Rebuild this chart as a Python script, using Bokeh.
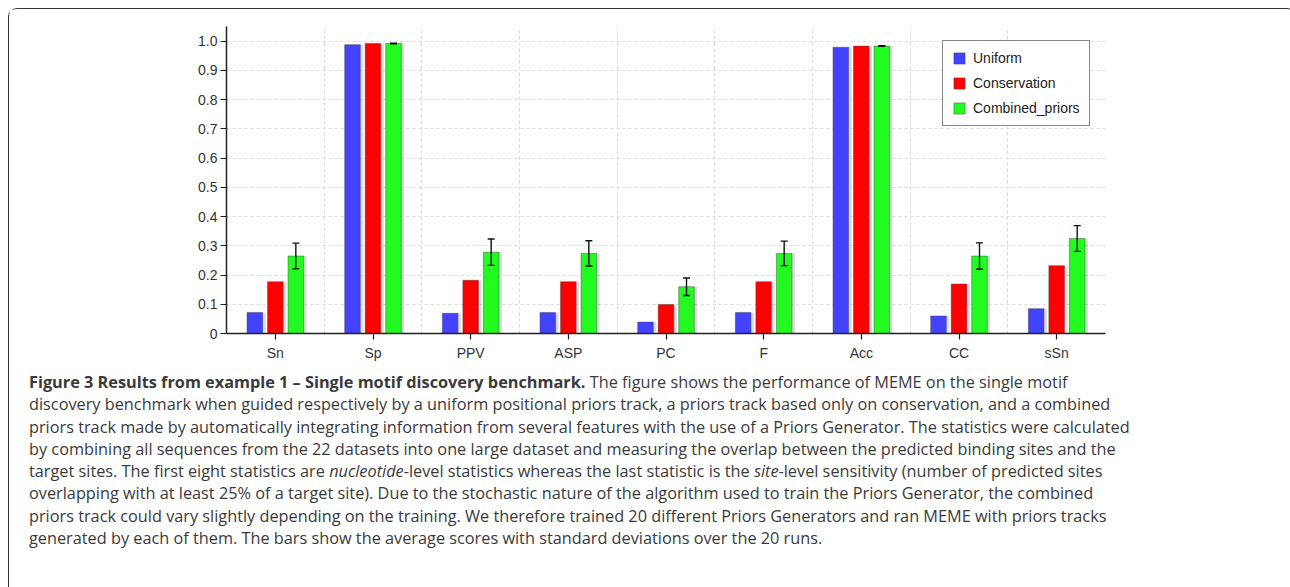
from bokeh.plotting import figure
from bokeh.models import (ColumnDataSource, FixedTicker, Whisker, TeeHead,
                          Legend, LegendItem, Div)
from bokeh.transform import dodge
from bokeh.layouts import column
from bokeh.embed import file_html
from bokeh.resources import INLINE

# ---------------- data ----------------
categories = ["Sn", "Sp", "PPV", "ASP", "PC", "F", "Acc", "CC", "sSn"]
uniform = [0.072, 0.988, 0.069, 0.072, 0.039, 0.072, 0.979, 0.060, 0.085]
conservation = [0.177, 0.992, 0.182, 0.177, 0.099, 0.177, 0.983, 0.169, 0.232]
combined_priors = [0.265, 0.992, 0.278, 0.274, 0.160, 0.274, 0.983, 0.265, 0.325]
combined_sd = [0.044, 0.001, 0.045, 0.043, 0.030, 0.042, 0.001, 0.045, 0.044]
series_names = ["Uniform", "Conservation", "Combined_priors"]
series_colors = ["#4343ff", "#ff0000", "#22fa22"]
y_ticks = [0, 0.1, 0.2, 0.3, 0.4, 0.5, 0.6, 0.7, 0.8, 0.9, 1.0]
y_tick_labels = ["0", "0.1", "0.2", "0.3", "0.4", "0.5", "0.6", "0.7", "0.8", "0.9", "1.0"]

caption_lines = [
    "<b>Figure 3 Results from example 1 \u2013 Single motif discovery benchmark.</b> The figure shows the performance of MEME on the single motif",
    "discovery benchmark when guided respectively by a uniform positional priors track, a priors track based only on conservation, and a combined",
    "priors track made by automatically integrating information from several features with the use of a Priors Generator. The statistics were calculated",
    "by combining all sequences from the 22 datasets into one large dataset and measuring the overlap between the predicted binding sites and the",
    "target sites. The first eight statistics are <i>nucleotide</i>-level statistics whereas the last statistic is the <i>site</i>-level sensitivity (number of predicted sites",
    "overlapping with at least 25% of a target site). Due to the stochastic nature of the algorithm used to train the Priors Generator, the combined",
    "priors track could vary slightly depending on the training. We therefore trained 20 different Priors Generators and ran MEME with priors tracks",
    "generated by each of them. The bars show the average scores with standard deviations over the 20 runs.",
]

src = ColumnDataSource(data=dict(
    cat=categories,
    uniform=uniform,
    conservation=conservation,
    combined=combined_priors,
    upper=[v + s for v, s in zip(combined_priors, combined_sd)],
    lower=[v - s for v, s in zip(combined_priors, combined_sd)],
))

FONT = "Liberation Sans"

p = figure(x_range=categories, y_range=(0, 1.05), width=1276, height=355,
           output_backend="svg", toolbar_location=None,
           min_border_left=217, min_border_right=180, min_border_top=17,
           min_border_bottom=31)
p.outline_line_color = None
p.background_fill_color = "white"
p.border_fill_color = "white"

offsets = [-0.21, 0.0, 0.21]
bar_w = 0.16
cols = ["uniform", "conservation", "combined"]

# soft shadows to the right of bars
for off, c in zip(offsets, cols):
    p.vbar(x=dodge("cat", off + 0.03, range=p.x_range), top=c, width=bar_w,
           source=src, fill_color="#9a9a9a", fill_alpha=0.35, line_color=None)

renderers = []
for off, c, col in zip(offsets, cols, series_colors):
    r = p.vbar(x=dodge("cat", off, range=p.x_range), top=c, width=bar_w,
               source=src, fill_color=col, line_color="#444444",
               line_alpha=0.45, line_width=1)
    renderers.append(r)

w = Whisker(base=dodge("cat", 0.21, range=p.x_range), upper="upper", lower="lower",
            source=src, line_color="#111111", line_width=1.4, level="overlay",
            upper_head=TeeHead(size=7, line_color="#111111", line_width=1.4),
            lower_head=TeeHead(size=7, line_color="#111111", line_width=1.4))
p.add_layout(w)

# grid
p.ygrid.ticker = FixedTicker(ticks=y_ticks)
p.ygrid.grid_line_color = "#d9d9d9"
p.ygrid.grid_line_dash = "3 3"
p.ygrid.grid_line_width = 1
p.xgrid.ticker = FixedTicker(ticks=list(range(1, len(categories))))
p.xgrid.grid_line_color = "#d9d9d9"
p.xgrid.grid_line_dash = "3 3"
p.xgrid.grid_line_width = 1

# axes
p.yaxis.ticker = FixedTicker(ticks=y_ticks)
p.yaxis.major_label_overrides = {t: l for t, l in zip(y_ticks, y_tick_labels)}
p.yaxis.minor_tick_line_color = None
p.yaxis.major_tick_out = 6
p.yaxis.major_tick_in = 0
p.yaxis.major_label_standoff = 3
for ax in (p.xaxis, p.yaxis):
    ax.axis_line_color = "#222222"
    ax.axis_line_width = 1.5
    ax.major_tick_line_color = "#222222"
    ax.major_tick_line_width = 1.2
    ax.major_label_text_font = FONT
    ax.major_label_text_font_size = "14px"
    ax.major_label_text_color = "#333333"
p.xaxis.major_tick_out = 6
p.xaxis.major_tick_in = 0
p.xaxis.major_label_standoff = 5

legend = Legend(items=[LegendItem(label=n, renderers=[r]) for n, r in zip(series_names, renderers)],
                location=(716, 207), orientation="vertical")
legend.margin = 0
legend.padding = 9
legend.spacing = 9
legend.glyph_width = 14
legend.glyph_height = 14
legend.label_height = 14
legend.label_standoff = 7
legend.label_text_font = FONT
legend.label_text_font_size = "14px"
legend.label_text_color = "#222222"
legend.border_line_color = "#111111"
legend.border_line_width = 1.2
legend.background_fill_color = "white"
legend.background_fill_alpha = 1.0
p.add_layout(legend, "center")

caption_html = (
    '<div style="font-family:\'Open Sans\'; font-size:16.3px; line-height:22.3px; '
    'color:#3a3a3a; padding-left:15px; padding-top:2px; white-space:nowrap;">'
    + "<br>".join(caption_lines) + "</div>"
)
div = Div(text=caption_html, width=1276, height=220,
          styles={"overflow": "hidden"})

layout = column(p, div, spacing=0, margin=(8, 0, 0, 8),
                styles={"border": "1.5px solid #333333", "border-bottom": "0",
                        "border-radius": "9px 9px 0 0", "background": "white"})

open("out.html", "w").write(file_html(layout, INLINE))
